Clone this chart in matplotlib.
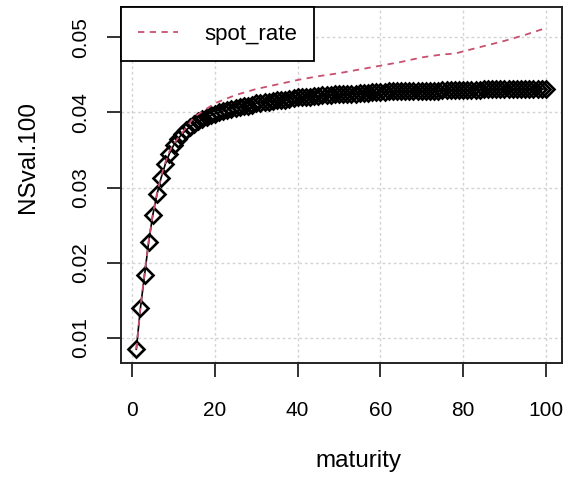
import matplotlib
matplotlib.use("Agg")
import matplotlib.pyplot as plt

maturity = list(range(1, 101))
ns_val = [
    0.0085, 0.0140, 0.0184, 0.0228, 0.0264, 0.0291, 0.0313, 0.0331, 0.0345, 0.0356,
    0.0364, 0.0371, 0.0376, 0.0381, 0.0385, 0.0388, 0.0391, 0.0394, 0.0396, 0.0398,
    0.0400, 0.0402, 0.0403, 0.0405, 0.0406, 0.0407, 0.0408, 0.0409, 0.0410, 0.0412,
    0.0413, 0.0414, 0.0414, 0.0415, 0.0416, 0.0417, 0.0417, 0.0418, 0.0419, 0.0420,
    0.0420, 0.0421, 0.0421, 0.0422, 0.0422, 0.0423, 0.0423, 0.0423, 0.0424, 0.0424,
    0.0424, 0.0425, 0.0425, 0.0425, 0.0426, 0.0426, 0.0426, 0.0427, 0.0427, 0.0427,
    0.0427, 0.0428, 0.0428, 0.0428, 0.0428, 0.0428, 0.0429, 0.0429, 0.0429, 0.0429,
    0.0429, 0.0429, 0.0429, 0.0429, 0.0430, 0.0430, 0.0430, 0.0430, 0.0430, 0.0430,
    0.0430, 0.0430, 0.0430, 0.0430, 0.0431, 0.0431, 0.0431, 0.0431, 0.0431, 0.0431,
    0.0431, 0.0431, 0.0431, 0.0431, 0.0431, 0.0431, 0.0431, 0.0431, 0.0431, 0.0431,
]

spot_maturity = [1, 2, 3, 4, 5, 6, 7, 8, 9, 10, 12, 15, 20, 25, 30, 35, 40, 45, 50,
                 55, 60, 65, 70, 75, 78, 80, 85, 90, 95, 100]
spot_rate = [0.0085, 0.0141, 0.0186, 0.0229, 0.0265, 0.0292, 0.0315, 0.0333, 0.0348,
             0.0358, 0.0372, 0.0394, 0.0412, 0.0423, 0.0431, 0.0437, 0.0443, 0.0448,
             0.0452, 0.0457, 0.0462, 0.0467, 0.0473, 0.0477, 0.0478, 0.0481, 0.0488,
             0.0495, 0.0503, 0.0512]

x_ticks = [0, 20, 40, 60, 80, 100]
y_ticks = [0.01, 0.02, 0.03, 0.04, 0.05]

plt.rcParams['font.family'] = ['Liberation Sans', 'DejaVu Sans']

W, H = 565, 478
fig = plt.figure(figsize=(W / 100, H / 100), dpi=100)
L, R, T, B = 121, 562, 7, 363
ax = fig.add_axes([L / W, (H - B) / H, (R - L) / W, (B - T) / H])

ax.set_xlim(-2.7, 103.9)
ax.set_ylim(0.00668, 0.0540)

ax.grid(True, color='#D3D3D3', linestyle=(0, (2, 2)), linewidth=1.0, zorder=0)
ax.set_axisbelow(True)

ax.plot(maturity, ns_val, color='black', linewidth=1.2, marker='D', markersize=8,
        markerfacecolor='none', markeredgecolor='black', markeredgewidth=1.9, zorder=2)
ax.plot(spot_maturity, spot_rate, color='#C8506E', linewidth=1.3,
        linestyle=(0, (3.5, 3)), label='spot_rate', zorder=3)

ax.set_xticks(x_ticks)
ax.set_xticklabels([str(v) for v in x_ticks])
ax.set_yticks(y_ticks)
ax.set_yticklabels([f"{v:.2f}" for v in y_ticks], rotation=90, va='center')

ax.tick_params(axis='both', direction='out', length=10, width=1.3, color='#222222')
ax.tick_params(axis='x', labelsize=15, pad=17)
ax.tick_params(axis='y', labelsize=15, pad=12)

for s in ax.spines.values():
    s.set_linewidth(1.4)
    s.set_color('#222222')

fig.text(358 / W, 1 - 461 / H, 'maturity', ha='center', va='center', fontsize=17.5)
fig.text(28 / W, 1 - 157 / H, 'NSval.100', ha='center', va='center', fontsize=17.5,
         rotation=90)

leg = ax.legend(loc='upper left', bbox_to_anchor=(0, 1), borderaxespad=0,
                fancybox=False, framealpha=1, edgecolor='black', fontsize=16,
                handlelength=1.8, handletextpad=1.2, borderpad=0.75)
leg.get_frame().set_linewidth(1.3)

fig.savefig('out.png', dpi=100)
